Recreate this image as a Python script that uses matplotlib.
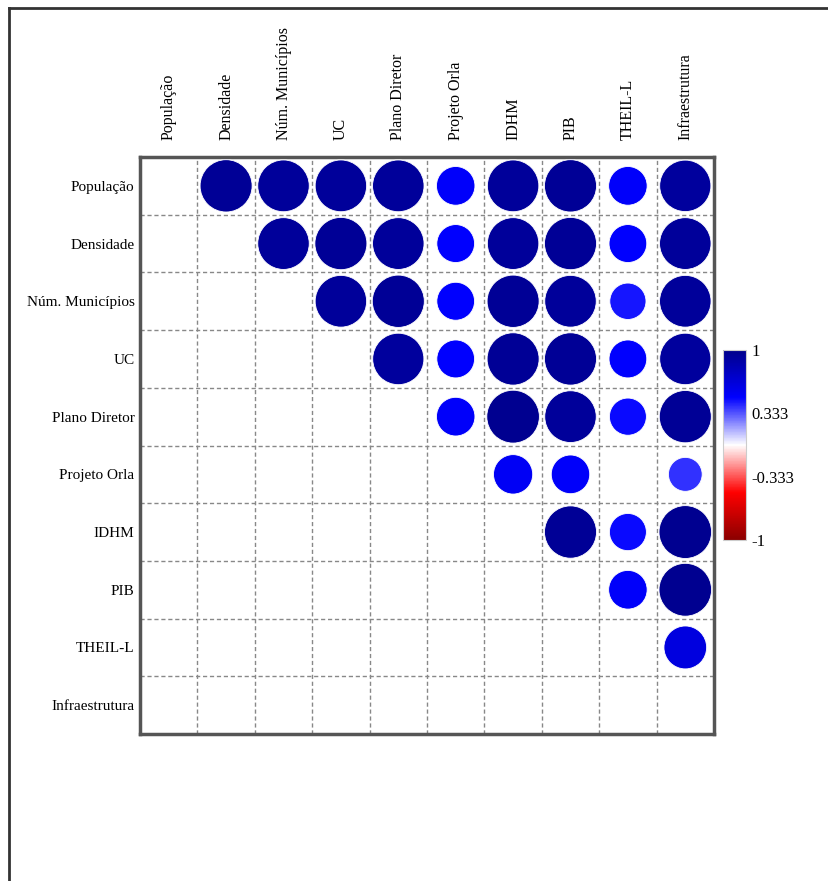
import numpy as np
import matplotlib.pyplot as plt
from matplotlib.colors import LinearSegmentedColormap, Normalize
from matplotlib.patches import Circle
from matplotlib.lines import Line2D
from matplotlib.colorbar import ColorbarBase

plt.rcParams['font.family'] = ['Liberation Serif', 'DejaVu Serif']

variables = ["População", "Densidade", "Núm. Municípios", "UC", "Plano Diretor",
             "Projeto Orla", "IDHM", "PIB", "THEIL-L", "Infraestrutura"]

# upper triangle of the correlation matrix, one list per row (columns after the diagonal)
upper = [
    [0.95, 0.93, 0.93, 0.93, 0.52, 0.93, 0.95, 0.52, 0.92],
    [0.93, 0.95, 0.93, 0.50, 0.93, 0.95, 0.50, 0.93],
    [0.93, 0.95, 0.50, 0.95, 0.93, 0.46, 0.93],
    [0.92, 0.50, 0.95, 0.95, 0.50, 0.92],
    [0.52, 0.97, 0.93, 0.48, 0.95],
    [0.54, 0.52, 0.0, 0.40],
    [0.95, 0.48, 0.97],
    [0.52, 0.97],
    [0.64],
]
cbar_ticks = [-1, -0.333, 0.333, 1]
cbar_labels = ["-1", "-0.333", "0.333", "1"]

n = len(variables)
corr = np.zeros((n, n))
for i, row in enumerate(upper):
    for k, v in enumerate(row):
        corr[i, i + 1 + k] = v

cmap = LinearSegmentedColormap.from_list(
    "rwb", ["#8B0000", "#FF0000", "#FFFFFF", "#0000FF", "#00008B"])
norm = Normalize(-1, 1)

W, H = 829, 881
fig = plt.figure(figsize=(W / 100, H / 100), dpi=100)

# outer frame (only left and top edges are visible in the crop)
fig.add_artist(Line2D([9 / W, 9 / W], [1 - 8 / H, 0], transform=fig.transFigure,
                      color="#333333", lw=2))
fig.add_artist(Line2D([9 / W, 1], [1 - 8 / H, 1 - 8 / H], transform=fig.transFigure,
                      color="#333333", lw=2))

ax = fig.add_axes([140 / W, 1 - 734 / H, 574 / W, 577 / H])
ax.set_xlim(0, n)
ax.set_ylim(n, 0)

for i in range(n):
    for j in range(n):
        r = corr[i, j]
        if r == 0:
            continue
        ax.add_patch(Circle((j + 0.5, i + 0.5), np.sqrt(abs(r)) * 0.465,
                            facecolor=cmap(norm(r)), edgecolor="white", lw=0.6,
                            zorder=3))

for k in range(1, n):
    ax.axvline(k, color="#888888", ls=(0, (3, 2)), lw=1, zorder=1)
    ax.axhline(k, color="#888888", ls=(0, (3, 2)), lw=1, zorder=1)

for s in ax.spines.values():
    s.set_color("#555555")
    s.set_linewidth(2.5)

ax.xaxis.tick_top()
ax.set_xticks(np.arange(n) + 0.5)
ax.set_xticklabels(variables, rotation=90, fontsize=11.5)
ax.set_yticks(np.arange(n) + 0.5)
ax.set_yticklabels(variables, fontsize=11)
ax.tick_params(axis="x", length=0, pad=12)
ax.tick_params(axis="y", length=0, pad=4)

cax = fig.add_axes([723 / W, 1 - 540 / H, 23 / W, 190 / H])
cb = ColorbarBase(cax, cmap=cmap, norm=norm, orientation="vertical")
cb.set_ticks(cbar_ticks)
cb.set_ticklabels(cbar_labels)
cb.ax.tick_params(length=0, labelsize=12, pad=4)
cb.outline.set_edgecolor("#cccccc")
cb.outline.set_linewidth(0.8)

fig.savefig("out.png", dpi=100)
